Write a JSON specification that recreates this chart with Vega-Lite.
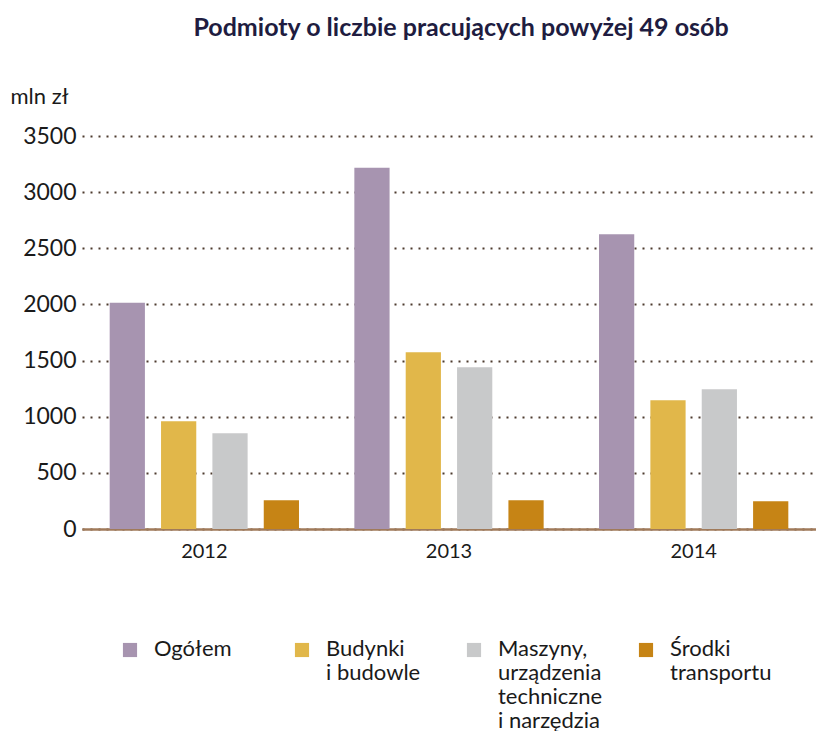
{
  "$schema": "https://vega.github.io/schema/vega-lite/v6.json",
  "width": 734,
  "height": 393,
  "autosize": {"type": "none"},
  "padding": {"left": 82, "top": 136, "right": 0, "bottom": 202},
  "background": "white",
  "title": {
    "text": "Podmioty o liczbie pracujących powyżej 49 osób",
    "font": "Lato",
    "fontSize": 25,
    "fontWeight": "bold",
    "color": "#201c40",
    "anchor": "middle",
    "dx": 12,
    "offset": 44
  },
  "data": {
    "values": [
      {"rok": "2012", "kategoria": "Ogółem", "wartosc": 2015},
      {"rok": "2012", "kategoria": "Budynki i budowle", "wartosc": 959},
      {"rok": "2012", "kategoria": "Maszyny, urządzenia techniczne i narzędzia", "wartosc": 852},
      {"rok": "2012", "kategoria": "Środki transportu", "wartosc": 256},
      {"rok": "2013", "kategoria": "Ogółem", "wartosc": 3218},
      {"rok": "2013", "kategoria": "Budynki i budowle", "wartosc": 1574},
      {"rok": "2013", "kategoria": "Maszyny, urządzenia techniczne i narzędzia", "wartosc": 1440},
      {"rok": "2013", "kategoria": "Środki transportu", "wartosc": 256},
      {"rok": "2014", "kategoria": "Ogółem", "wartosc": 2625},
      {"rok": "2014", "kategoria": "Budynki i budowle", "wartosc": 1146},
      {"rok": "2014", "kategoria": "Maszyny, urządzenia techniczne i narzędzia", "wartosc": 1244},
      {"rok": "2014", "kategoria": "Środki transportu", "wartosc": 247}
    ]
  },
  "mark": {"type": "bar"},
  "encoding": {
    "x": {
      "field": "rok",
      "type": "nominal",
      "scale": {"paddingInner": 0, "paddingOuter": 0},
      "axis": {
        "title": null,
        "labelAngle": 0,
        "labelFont": "Lato",
        "labelFontSize": 20,
        "labelColor": "#1a1a1a",
        "labelPadding": 12,
        "ticks": false,
        "domainColor": "#a07a5a",
        "domainWidth": 2.5,
        "grid": false
      }
    },
    "xOffset": {
      "field": "kategoria",
      "type": "nominal",
      "sort": ["Ogółem", "Budynki i budowle", "Maszyny, urządzenia techniczne i narzędzia", "Środki transportu"],
      "scale": {"paddingInner": 0.314, "paddingOuter": 0.539}
    },
    "y": {
      "field": "wartosc",
      "type": "quantitative",
      "scale": {"domain": [0, 3500]},
      "axis": {
        "values": [0, 500, 1000, 1500, 2000, 2500, 3000, 3500],
        "format": "d",
        "domain": false,
        "ticks": false,
        "labelFont": "Lato",
        "labelFontSize": 23,
        "labelColor": "#1a1a1a",
        "labelPadding": 6,
        "grid": true,
        "gridColor": "#4d3b2e",
        "gridDash": [2, 6],
        "gridWidth": 1.8,
        "title": "mln zł",
        "titleAngle": 0,
        "titleAlign": "left",
        "titleBaseline": "alphabetic",
        "titleX": -72,
        "titleY": -33,
        "titleFont": "Lato",
        "titleFontSize": 22,
        "titleFontWeight": "normal",
        "titleColor": "#1a1a1a"
      }
    },
    "color": {
      "field": "kategoria",
      "type": "nominal",
      "sort": ["Ogółem", "Budynki i budowle", "Maszyny, urządzenia techniczne i narzędzia", "Środki transportu"],
      "scale": {
        "domain": ["Ogółem", "Budynki i budowle", "Maszyny, urządzenia techniczne i narzędzia", "Środki transportu"],
        "range": ["#a794b0", "#e1b74a", "#c8c9ca", "#c68415"]
      },
      "legend": {
        "orient": "none",
        "legendX": 37,
        "legendY": 503,
        "direction": "horizontal",
        "columns": 4,
        "gridAlign": "all",
        "title": null,
        "symbolType": "square",
        "symbolSize": 200,
        "symbolStrokeWidth": 0,
        "labelFont": "Lato",
        "labelFontSize": 22,
        "labelLineHeight": 24,
        "labelColor": "#1a1a1a",
        "labelOffset": 13,
        "labelLimit": 300,
        "columnPadding": 32,
        "labelBaseline": "top",
        "labelExpr": "datum.label == 'Budynki i budowle' ? ['Budynki', 'i budowle', ' ', ' '] : datum.label == 'Środki transportu' ? ['Środki', 'transportu', ' ', ' '] : datum.label == 'Ogółem' ? ['Ogółem', ' ', ' ', ' '] : ['Maszyny,', 'urządzenia', 'techniczne', 'i narzędzia']",
        "encode": {"labels": {"update": {"dy": {"value": -11}}}}
      }
    }
  },
  "config": {"view": {"stroke": null}}
}
